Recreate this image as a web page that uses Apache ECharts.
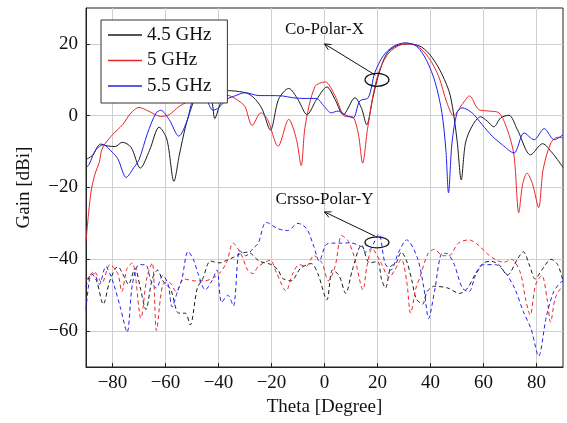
<!DOCTYPE html>
<html><head><meta charset="utf-8">
<script src="https://cdn.jsdelivr.net/npm/echarts@6/dist/echarts.min.js"></script>
<style>html,body{margin:0;padding:0;background:#fff}#c{width:567px;height:423px}</style>
</head><body><div id="c"></div>
<script>
const xTicks = [-80, -60, -40, -20, 0, 20, 40, 60, 80];
const yTicks = [-60, -40, -20, 0, 20];
const seriesNames = ['4.5 GHz', '5 GHz', '5.5 GHz'];

// Co-polar (solid) [theta, gain]
const co45 = [[-90,-12.2],[-87.5,-11],[-84.5,-7.9],[-82,-8.4],[-79,-8.6],[-76.3,-7.4],[-73,-8.8],[-69.5,-14.6],[-66,-9.6],[-62.4,-3.2],[-59.5,-6.5],[-56.8,-18.3],[-54.8,-11],[-52.4,-2.9],[-50.5,1.7],[-48.5,5.4],[-45,8],[-42.5,4],[-41.4,-0.8],[-39.5,3],[-37,7],[-33,6.8],[-29,6.2],[-26,4.5],[-23.5,1.8],[-20.4,-4],[-17.3,4.6],[-13.5,7.6],[-10,4.5],[-6.6,0.3],[-3,4.5],[0.9,8],[4,4.5],[7.1,0.3],[11.5,5],[14,2],[15.9,-2.5],[18.4,5.5],[20.3,11.1],[23.4,17.2],[27.2,19.5],[32.3,20],[36.7,19.1],[40.5,16.3],[44.3,11.6],[47.5,5.5],[50,-6.7],[51.6,-17.9],[53.2,-7.6],[55.7,-2.9],[58.9,-0.3],[61.4,-1.5],[63.9,-3.1],[66.5,-0.6],[69.6,0.1],[72.8,-3.9],[77.8,-10.9],[82.3,-7.8],[86,-10.4],[90,-14.4]];
const co5 = [[-90,-35],[-89,-27],[-88,-20.7],[-86.5,-16],[-85,-13],[-83.8,-9],[-80,-5.3],[-76.2,-2.5],[-73.1,0.7],[-70,2.3],[-66.2,1.2],[-61.8,-0.2],[-58.6,0.3],[-54.8,2.6],[-49.8,4.5],[-45,5.5],[-40,6],[-36,5.6],[-32.3,4.1],[-30,2.5],[-27.3,-2.7],[-24,0.8],[-21.5,-1],[-17.5,-8.5],[-13.5,-1],[-10.6,-6.6],[-8.8,-13.9],[-7.3,-2.9],[-3.6,8.1],[0.3,9.4],[4,5.5],[7.8,-0.2],[10.5,-0.3],[12.7,-4.8],[14.4,-13.2],[16.2,-3.9],[18.4,6],[20.9,13],[24.7,17.8],[30.4,20],[34.8,19.5],[39.2,16.3],[43,11.1],[46.2,3.6],[48.7,0],[51.9,3.1],[54.7,5.5],[58.2,1.7],[62,1.3],[65.8,0.8],[69,-3.9],[71.5,-11],[73.3,-27],[74.8,-19],[76.4,-16],[78.5,-19],[80.8,-25.6],[82.5,-15],[85.4,-7.6],[88,-6],[90,-6.2]];
const co55 = [[-90,-14.6],[-88.8,-13.5],[-86.3,-9.5],[-83.5,-8.1],[-80.6,-9.8],[-78,-12],[-74.8,-17.2],[-72,-14.5],[-70,-12.3],[-66.8,-4.9],[-63.6,0.7],[-61.8,1.5],[-58.6,-1.1],[-55,-5.7],[-51.7,-1.1],[-49.8,4],[-46,6],[-42,1.5],[-39.8,2.3],[-36.8,4.6],[-33.5,5.6],[-30,6.4],[-24.7,5.6],[-20.9,5.6],[-15.8,5.5],[-12,5],[-7,4.8],[-3.2,4.8],[0,2.5],[2.5,0.8],[5.1,1.3],[7.6,0.3],[10.8,-0.6],[13.3,4.1],[16.5,5],[19,12],[22.2,16.7],[26,19.3],[30.4,20.3],[34.8,19.3],[38.6,15.3],[41.8,9.2],[44.3,0.8],[45.8,-9.5],[46.8,-21.5],[48.1,-7.6],[50,0.8],[51.9,2.2],[55.7,0.8],[59.5,-2.5],[63.3,-5.7],[67.1,-8.1],[71.5,-10.4],[75.3,-4.8],[79.1,-6.7],[82.9,-3.6],[86.7,-6.7],[90,-5.3]];

// Cross-polar (dashed) [theta, gain]
const x45 = [[-90,-47.6],[-88,-44],[-86,-46],[-83.5,-52.5],[-81,-46],[-78,-42],[-75.5,-45],[-74,-47],[-71.5,-42.5],[-69.5,-48],[-67.4,-54],[-65,-45.5],[-63,-43],[-61,-46],[-58,-48.5],[-55,-55],[-52.5,-55],[-50.7,-58.3],[-48,-48],[-46,-45.5],[-43,-40.5],[-39.5,-41],[-37,-40.3],[-34.5,-39.5],[-32,-38.5],[-29,-38],[-24.6,-40.5],[-20,-41.5],[-17.5,-43],[-15.8,-45.3],[-12.6,-46],[-9,-42.5],[-5,-41.2],[-2.5,-44],[0.9,-51.3],[3,-43],[5.5,-44.5],[8,-49.5],[10.5,-43],[14,-36],[17,-41],[20,-40.6],[21.5,-45.5],[23,-48],[25,-42],[27,-41],[29,-38],[31,-40.5],[33,-46],[34.6,-51],[37,-52.5],[38.7,-49],[41.5,-47.5],[46.5,-48],[51,-49.5],[54,-48],[57,-44],[60,-41],[63,-40.6],[66,-41.6],[69,-44.4],[73,-39.7],[75,-37.9],[77.5,-42],[79.5,-45.5],[82,-43],[85.5,-40],[88,-41.5],[90,-46]];
const x5 = [[-90,-46],[-87,-43.4],[-84,-46.5],[-81,-41.5],[-78,-44],[-76.5,-49],[-74.5,-42.5],[-72.5,-41],[-69.3,-56.4],[-67,-45],[-65,-41],[-63.4,-59.8],[-61,-47],[-58.5,-46.5],[-56,-49],[-53,-45.5],[-49,-46],[-45.5,-46],[-40.5,-44.5],[-37,-41],[-34.5,-35.5],[-31.5,-38.5],[-29,-43],[-27,-44],[-25,-42],[-20.5,-40.3],[-18,-44],[-14.5,-48.8],[-12,-44],[-9.5,-41.5],[-7,-42],[-4,-39],[-1,-41],[1.5,-46],[4,-42],[6.5,-33.4],[9,-35],[11.5,-40],[14.5,-48.5],[16,-42],[18,-37],[21,-40.5],[24.5,-45],[26.5,-43],[29,-40],[31,-46],[32.5,-55],[34.5,-48],[36,-45],[39,-38.5],[41.5,-37.2],[44.6,-39],[47,-39],[50.5,-35.5],[54.5,-34.6],[58,-36],[61.5,-38.5],[65,-40.3],[67.8,-40.8],[70.5,-40],[73.8,-43.5],[76,-51.5],[77.6,-55.5],[79.7,-47],[82,-44.5],[84,-51],[85.3,-57.5],[87,-51],[88.7,-48.5],[90,-48]];
const x55 = [[-90,-54],[-88.5,-45],[-87,-44],[-85,-47],[-82.5,-42],[-81,-44],[-79.5,-47],[-77,-53.5],[-74.5,-60.3],[-72.5,-47],[-70,-41.5],[-67.5,-41.5],[-65.5,-46],[-63.5,-48],[-61,-44.5],[-59,-47],[-57.5,-53.3],[-55.5,-49],[-53.8,-45.5],[-51.5,-37.8],[-49.5,-40],[-47.7,-44],[-45,-48.5],[-42.5,-46],[-40.6,-43],[-38.8,-52],[-36.5,-50],[-34.4,-53],[-32,-37.5],[-29.7,-39],[-27,-37],[-25,-35.5],[-22,-29.7],[-17.5,-31.5],[-14,-32],[-10,-30],[-6.7,-31.5],[-4,-36.5],[-2,-40.5],[0.5,-36],[3,-35.5],[6.5,-35.5],[9.5,-35.4],[14,-36.5],[15.5,-38],[17.5,-37],[20.5,-33],[22.8,-41],[25,-43],[28,-38],[31,-34.6],[35,-39.5],[37.5,-48],[39.3,-56.5],[41.5,-49],[44.5,-38.3],[46.5,-38.5],[49,-41.5],[52,-48],[54.5,-49],[57,-44.5],[60,-41.5],[64.5,-41.5],[68,-43.5],[71.7,-48],[75,-54.5],[78,-59.5],[80.8,-67],[83.7,-56],[86.5,-49],[89,-46.5],[90,-46]];

// annotations in data coords: text, arrow tip, arrow tail, ellipse centre
const annCo = {text:'Co-Polar-X', t:[0,23.9], tip:[0,20], tail:[19.2,11.3], ell:[19.8,10]};
const annX = {text:'Crsso-Polar-Y', t:[0,-23.4], tip:[0,-26.8], tail:[19.2,-33.6], ell:[19.8,-35.3]};

const FONT = 'Liberation Serif';
const colors = ['#1a1a1a', '#e8262a', '#2020ee'];
const minus = v => String(v).replace('-', '\u2212');

const chart = echarts.init(document.getElementById('c'), null, {renderer:'canvas'});
function line(name, data, color, dashed) {
  return { name, type:'line', data, smooth:0.3, symbol:'none', showSymbol:false,
    lineStyle:{color, width:1, type: dashed ? [4,3] : 'solid'}, itemStyle:{color},
    z: dashed ? 2 : 3, silent:true, animation:false };
}
const option = {
  animation:false,
  grid:{left:86, right:4, top:8, bottom:56, show:true, borderColor:'#222', borderWidth:1},
  legend:{ data: seriesNames, left:101, top:20, orient:'vertical', backgroundColor:'#fff',
    borderColor:'#333', borderWidth:1, borderRadius:0, padding:[5,16,7,7],
    icon:'rect', itemWidth:34, itemHeight:1.3, itemGap:5.5,
    textStyle:{fontFamily:FONT, fontSize:19, color:'#111', lineHeight:20} },
  xAxis:{ type:'value', min:-90, max:90, name:'Theta [Degree]', nameLocation:'middle', nameGap:30,
    nameTextStyle:{fontFamily:FONT, fontSize:19, color:'#111'},
    axisLine:{show:true, onZero:false, lineStyle:{color:'#222'}},
    axisTick:{show:true, inside:true, length:4, customValues:xTicks, lineStyle:{color:'#222'}},
    axisLabel:{customValues:xTicks, formatter:minus, fontFamily:FONT, fontSize:19, color:'#111', margin:7},
    splitLine:{show:true, customValues:xTicks, lineStyle:{color:'#cfcfcf', width:1}} },
  yAxis:{ type:'value', min:-70, max:30, name:'Gain [dBi]', nameLocation:'middle', nameGap:52,
    nameTextStyle:{fontFamily:FONT, fontSize:19, color:'#111'},
    axisLine:{show:true, onZero:false, lineStyle:{color:'#222'}},
    axisTick:{show:true, inside:true, length:4, customValues:yTicks, lineStyle:{color:'#222'}},
    axisLabel:{customValues:yTicks, formatter:minus, fontFamily:FONT, fontSize:19, color:'#111', margin:8},
    splitLine:{show:true, customValues:yTicks, lineStyle:{color:'#cfcfcf', width:1}} },
  series:[
    line('4.5 GHz', co45, colors[0], false),
    line('5 GHz', co5, colors[1], false),
    line('5.5 GHz', co55, colors[2], false),
    line('x4.5', x45, colors[0], true),
    line('x5', x5, colors[1], true),
    line('x5.5', x55, colors[2], true)
  ]
};
chart.setOption(option);

function annGraphics(a, ry) {
  const p = v => chart.convertToPixel({gridIndex:0}, v);
  const t = p(a.t), tip = p(a.tip), tail = p(a.tail), e = p(a.ell);
  const ang = Math.atan2(tail[1]-tip[1], tail[0]-tip[0]);
  const L = 7, w = 0.45;
  const h1 = [tip[0] + L*Math.cos(ang+w), tip[1] + L*Math.sin(ang+w)];
  const h2 = [tip[0] + L*Math.cos(ang-w), tip[1] + L*Math.sin(ang-w)];
  return [
    {type:'text', x:t[0], y:t[1], style:{text:a.text, fontFamily:FONT, fontSize:17, fill:'#111', align:'center', verticalAlign:'middle'}, z:10},
    {type:'line', shape:{x1:tail[0], y1:tail[1], x2:tip[0], y2:tip[1]}, style:{stroke:'#111', lineWidth:1}, z:10},
    {type:'polyline', shape:{points:[h1, tip, h2]}, style:{stroke:'#111', lineWidth:1, fill:null}, z:10},
    {type:'ellipse', shape:{cx:e[0], cy:e[1], rx:12, ry:ry}, style:{stroke:'#111', lineWidth:1.2, fill:null}, z:10}
  ];
}
chart.setOption({graphic:[...annGraphics(annCo, 6.5), ...annGraphics(annX, 5.5)]});
</script></body></html>
